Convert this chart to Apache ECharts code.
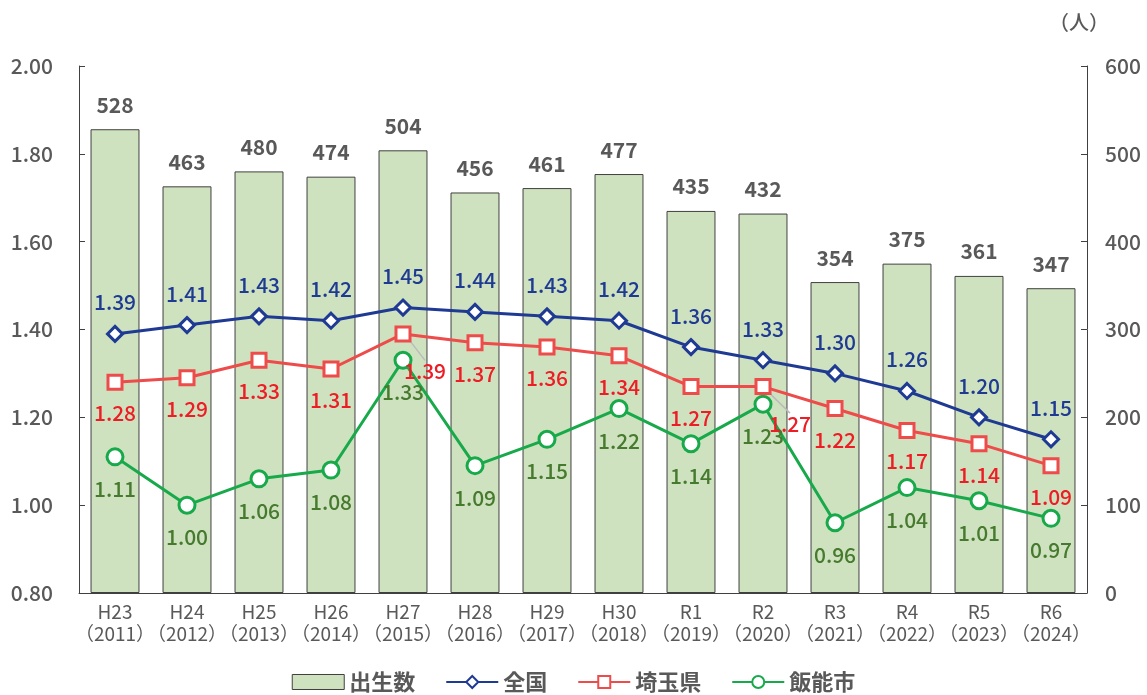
<!DOCTYPE html>
<html><head><meta charset="utf-8">
<script src="https://cdn.jsdelivr.net/npm/echarts@6/dist/echarts.min.js"></script>
<style>html,body{margin:0;padding:0;background:#fff}#c{width:1147px;height:695px}</style>
</head><body><div id="c"></div>
<script>
const categories = ['H23\n（2011）','H24\n（2012）','H25\n（2013）','H26\n（2014）','H27\n（2015）','H28\n（2016）','H29\n（2017）','H30\n（2018）','R1\n（2019）','R2\n（2020）','R3\n（2021）','R4\n（2022）','R5\n（2023）','R6\n（2024）'];
const births = [528,463,480,474,504,456,461,477,435,432,354,375,361,347];
const national = [1.39,1.41,1.43,1.42,1.45,1.44,1.43,1.42,1.36,1.33,1.30,1.26,1.20,1.15];
const saitama = [1.28,1.29,1.33,1.31,1.39,1.37,1.36,1.34,1.27,1.27,1.22,1.17,1.14,1.09];
const hanno = [1.11,1.00,1.06,1.08,1.33,1.09,1.15,1.22,1.14,1.23,0.96,1.04,1.01,0.97];
const leftTicks = [0.8, 2.0, 0.2];
const rightTicks = [0, 600, 100];
const movedSaitama = {4:[22,6], 9:[27,6]};

const FONT = '"Noto Sans CJK JP", "Noto Sans", sans-serif';
const GRAY = '#595959';
const chart = echarts.init(document.getElementById('c'), null, {renderer:'canvas'});

const fmt2 = p => p.value.toFixed(2);
const lbl = (color) => ({show:true, fontFamily:FONT, fontSize:21, fontWeight:500, color:color, formatter:fmt2});

const saitamaData = saitama.map((v,i) => movedSaitama[i] ? {value:v, labelLine:{show:true}} : v);

chart.setOption({
  animation:false,
  textStyle:{fontFamily:FONT},
  grid:{left:79, right:60, top:66, bottom:102, containLabel:false},
  legend:{
    bottom:-3, left:'center', itemGap:30, itemWidth:52, itemHeight:15,
    textStyle:{fontFamily:FONT, fontSize:22, fontWeight:'bold', color:GRAY},
    data:[
      {name:'出生数', icon:'rect', itemStyle:{color:'#CFE2BF', borderColor:'#404040', borderWidth:1}},
      {name:'全国'},{name:'埼玉県'},{name:'飯能市'}
    ]
  },
  xAxis:{
    type:'category', data:categories,
    axisLine:{lineStyle:{color:'#404040', width:1}},
    axisTick:{show:false},
    axisLabel:{interval:0, fontFamily:FONT, fontSize:19, color:GRAY, lineHeight:22, margin:8}
  },
  yAxis:[
    {type:'value', min:leftTicks[0], max:leftTicks[1], interval:leftTicks[2], position:'left',
     axisLine:{show:true, lineStyle:{color:'#404040'}},
     axisTick:{show:true, inside:true, length:6, lineStyle:{color:'#404040'}},
     splitLine:{show:false},
     axisLabel:{fontFamily:FONT, fontSize:21, fontWeight:500, color:GRAY, margin:26, formatter:v=>v.toFixed(2)}},
    {type:'value', min:rightTicks[0], max:rightTicks[1], interval:rightTicks[2], position:'right',
     name:'（人）', nameLocation:'end', nameGap:34,
     nameTextStyle:{fontFamily:FONT, fontSize:20, fontWeight:500, color:GRAY, align:'center', padding:[0,0,0,-16]},
     axisLine:{show:true, lineStyle:{color:'#404040'}},
     axisTick:{show:true, inside:true, length:6, lineStyle:{color:'#404040'}},
     splitLine:{show:false},
     axisLabel:{fontFamily:FONT, fontSize:21, fontWeight:500, color:GRAY, margin:18}}
  ],
  series:[
    {name:'出生数', type:'bar', yAxisIndex:1, data:births, barWidth:'68%',
     itemStyle:{color:'#CFE2BF', borderColor:'#404040', borderWidth:1},
     label:{show:true, position:'top', distance:14, fontFamily:FONT, fontSize:21, fontWeight:'bold', color:GRAY}},
    {name:'全国', type:'line', yAxisIndex:0, data:national, symbol:'diamond', symbolSize:15,
     lineStyle:{color:'#1F3A93', width:3}, itemStyle:{color:'#fff', borderColor:'#1F3A93', borderWidth:3},
     label:Object.assign(lbl('#1F3A93'), {position:'top', distance:12}), z:5},
    {name:'埼玉県', type:'line', yAxisIndex:0, data:saitamaData, symbol:'rect', symbolSize:14,
     lineStyle:{color:'#EE4B4B', width:3}, itemStyle:{color:'#fff', borderColor:'#EE4B4B', borderWidth:3},
     label:Object.assign(lbl('#EE1C25'), {position:'bottom', distance:12}),
     labelLayout:function(p){ const m = movedSaitama[p.dataIndex]; return m ? {dx:m[0], dy:m[1]} : {}; },
     labelLine:{show:false, lineStyle:{color:'#BBBBBB', width:1.5}, length2:0, minTurnAngle:0}, z:4},
    {name:'飯能市', type:'line', yAxisIndex:0, data:hanno, symbol:'circle', symbolSize:16,
     lineStyle:{color:'#17A94A', width:3}, itemStyle:{color:'#fff', borderColor:'#17A94A', borderWidth:3},
     label:Object.assign(lbl('#467A2E'), {position:'bottom', distance:12}), z:3}
  ]
});
</script></body></html>
